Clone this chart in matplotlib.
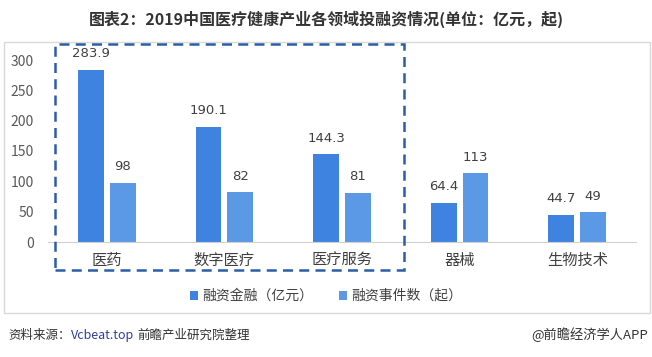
import numpy as np
import matplotlib.pyplot as plt
from matplotlib.patches import Rectangle

plt.rcParams['font.family'] = ['Noto Sans CJK SC', 'DejaVu Sans']

# data
categories = ['医药', '数字医疗', '医疗服务', '器械', '生物技术']
amount = [283.9, 190.1, 144.3, 64.4, 44.7]
events = [98, 82, 81, 113, 49]
amount_labels = ['283.9', '190.1', '144.3', '64.4', '44.7']
event_labels = ['98', '82', '81', '113', '49']
series_names = ['融资金融（亿元）', '融资事件数（起）']

c_dark = '#3F83E0'
c_light = '#5B98E6'
W, H = 652, 357

fig = plt.figure(figsize=(W / 100, H / 100), dpi=100)
ax = fig.add_axes([48 / W, (H - 242) / H, 588 / W, 182 / H])

x = np.arange(len(categories))
bw = 0.22
off = 0.135
b1 = ax.bar(x - off, amount, bw, color=c_dark, label=series_names[0])
b2 = ax.bar(x + off, events, bw, color=c_light, label=series_names[1])

for bars, labels in ((b1, amount_labels), (b2, event_labels)):
    for b, t in zip(bars, labels):
        ax.annotate(t, (b.get_x() + b.get_width() / 2, b.get_height()),
                    xytext=(0, 7), textcoords='offset points', ha='center',
                    va='bottom', fontsize=9.5, color='#404040',
                    family='DejaVu Sans', annotation_clip=False)

ax.set_xlim(-0.5, len(categories) - 0.5)
ax.set_ylim(0, 300)
ax.set_yticks(range(0, 301, 50))
ax.set_xticks(x)
ax.set_xticklabels(categories, fontsize=11, color='#404040')
ax.tick_params(axis='y', length=0, pad=10, labelsize=10, labelcolor='#595959')
ax.tick_params(axis='x', length=0, pad=7)
for s in ('top', 'right', 'left'):
    ax.spines[s].set_visible(False)
ax.spines['bottom'].set_color('#d0d0d0')
ax.patch.set_alpha(0)

leg = fig.legend(handles=[b1, b2], loc='center', bbox_to_anchor=(0.5, 1 - 296 / H),
                 ncol=2, frameon=False, fontsize=10, handlelength=0.6,
                 handleheight=0.6, handletextpad=0.3, columnspacing=1.8)
for t in leg.get_texts():
    t.set_color('#404040')

# outer frame and dashed highlight box
fig.patches.append(Rectangle((4 / W, 1 - 313 / H), 646 / W, 271 / H,
                             transform=fig.transFigure, fill=False,
                             edgecolor='#d9d9d9', lw=1))
fig.patches.append(Rectangle((55 / W, 1 - 270 / H), 349 / W, 226 / H,
                             transform=fig.transFigure, fill=False,
                             edgecolor='#2C5DA8', lw=1.8,
                             linestyle=(0, (4, 2.5))))

fig.text(0.5, 1 - 19 / H, '图表2：2019中国医疗健康产业各领域投融资情况(单位：亿元，起)',
         ha='center', va='center', fontsize=11.5, fontweight='bold', color='#333333')

t1 = fig.text(8 / W, 1 - 335 / H, '资料来源：', ha='left', va='center',
              fontsize=9, color='#333333')
fig.canvas.draw()
bb = t1.get_window_extent()
t2 = fig.text(bb.x1 / W, 1 - 335 / H, 'Vcbeat.top', ha='left', va='center',
              fontsize=9, color='#2F3E9E')
bb = t2.get_window_extent()
fig.text(bb.x1 / W + 4 / W, 1 - 335 / H, '前瞻产业研究院整理', ha='left',
         va='center', fontsize=9, color='#333333')
fig.text(648 / W, 1 - 335 / H, '@前瞻经济学人APP', ha='right', va='center',
         fontsize=9.5, color='#333333')

fig.savefig('out.png', dpi=100)
